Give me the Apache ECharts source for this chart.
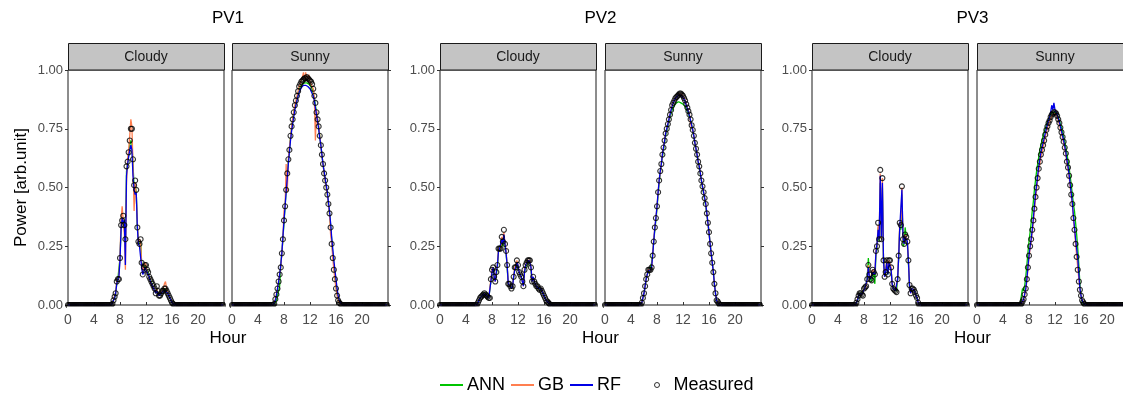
<!DOCTYPE html>
<html>
<head>
<meta charset="utf-8">
<script src="https://cdn.jsdelivr.net/npm/echarts@6/dist/echarts.min.js"></script>
<style>
  html, body { margin: 0; padding: 0; background: #fff; }
  #chart { width: 1123px; height: 394px; }
</style>
</head>
<body>
<div id="chart"></div>
<script>
// time of day, 10 minute steps
const hours = [
  0,0.17,0.33,0.5,0.67,0.83, 1,1.17,1.33,1.5,1.67,1.83, 2,2.17,2.33,2.5,2.67,2.83,
  3,3.17,3.33,3.5,3.67,3.83, 4,4.17,4.33,4.5,4.67,4.83, 5,5.17,5.33,5.5,5.67,5.83,
  6,6.17,6.33,6.5,6.67,6.83, 7,7.17,7.33,7.5,7.67,7.83, 8,8.17,8.33,8.5,8.67,8.83,
  9,9.17,9.33,9.5,9.67,9.83, 10,10.17,10.33,10.5,10.67,10.83, 11,11.17,11.33,11.5,11.67,11.83,
  12,12.17,12.33,12.5,12.67,12.83, 13,13.17,13.33,13.5,13.67,13.83, 14,14.17,14.33,14.5,14.67,14.83,
  15,15.17,15.33,15.5,15.67,15.83, 16,16.17,16.33,16.5,16.67,16.83, 17,17.17,17.33,17.5,17.67,17.83,
  18,18.17,18.33,18.5,18.67,18.83, 19,19.17,19.33,19.5,19.67,19.83, 20,20.17,20.33,20.5,20.67,20.83,
  21,21.17,21.33,21.5,21.67,21.83, 22,22.17,22.33,22.5,22.67,22.83, 23,23.17,23.33,23.5,23.67,23.83
];

const sites = ['PV1', 'PV2', 'PV3'];
const conditions = ['Cloudy', 'Sunny'];
const xTickValues = [0, 4, 8, 12, 16, 20];
const yTickLabels = ['0.00', '0.25', '0.50', '0.75', '1.00'];

// ---- PV1 ----
const pv1CloudyMeasured = [
  0,0,0,0,0,0, 0,0,0,0,0,0, 0,0,0,0,0,0, 0,0,0,0,0,0, 0,0,0,0,0,0, 0,0,0,0,0,0,
  0,0,0,0,0,0.005, 0.02,0.035,0.05,0.10,0.11,0.11, 0.20,0.34,0.36,0.38,0.34,0.28,
  0.59,0.61,0.65,0.70,0.75,0.75, 0.62,0.51,0.53,0.49,0.33,0.27, 0.26,0.28,0.18,0.13,0.16,0.17,
  0.17,0.15,0.14,0.12,0.11,0.10, 0.09,0.08,0.07,0.05,0.08,0.06, 0.04,0.04,0.05,0.06,0.06,0.07,
  0.07,0.06,0.05,0.04,0.03,0.02, 0.01,0.005,0,0,0,0,
  0,0,0,0,0,0, 0,0,0,0,0,0, 0,0,0,0,0,0, 0,0,0,0,0,0, 0,0,0,0,0,0, 0,0,0,0,0,0, 0,0,0,0,0,0
];
const pv1CloudyANN = [
  0,0,0,0,0,0, 0,0,0,0,0,0, 0,0,0,0,0,0, 0,0,0,0,0,0, 0,0,0,0,0,0, 0,0,0,0,0,0,
  0,0,0,0,0,0.006, 0.02,0.03,0.05,0.09,0.11,0.11, 0.20,0.33,0.36,0.37,0.33,0.26,
  0.57,0.60,0.64,0.68,0.70,0.69, 0.60,0.50,0.51,0.48,0.33,0.27, 0.26,0.27,0.18,0.14,0.15,0.17,
  0.16,0.15,0.14,0.12,0.11,0.10, 0.08,0.07,0.06,0.05,0.07,0.05, 0.04,0.04,0.05,0.06,0.06,0.07,
  0.07,0.06,0.05,0.04,0.03,0.02, 0.01,0.005,0,0,0,0,
  0,0,0,0,0,0, 0,0,0,0,0,0, 0,0,0,0,0,0, 0,0,0,0,0,0, 0,0,0,0,0,0, 0,0,0,0,0,0, 0,0,0,0,0,0
];
const pv1CloudyGB = [
  0,0,0,0,0,0, 0,0,0,0,0,0, 0,0,0,0,0,0, 0,0,0,0,0,0, 0,0,0,0,0,0, 0,0,0,0,0,0,
  0,0,0,0,0,0.005, 0.02,0.04,0.05,0.10,0.10,0.12, 0.21,0.36,0.42,0.36,0.30,0.15,
  0.52,0.62,0.66,0.72,0.79,0.76, 0.60,0.40,0.52,0.46,0.35,0.26, 0.28,0.27,0.17,0.14,0.17,0.18,
  0.17,0.14,0.13,0.12,0.11,0.09, 0.08,0.07,0.06,0.05,0.07,0.05, 0.04,0.05,0.05,0.06,0.07,0.09,
  0.10,0.07,0.05,0.04,0.03,0.02, 0.01,0.005,0,0,0,0,
  0,0,0,0,0,0, 0,0,0,0,0,0, 0,0,0,0,0,0, 0,0,0,0,0,0, 0,0,0,0,0,0, 0,0,0,0,0,0, 0,0,0,0,0,0
];
const pv1CloudyRF = [
  0,0,0,0,0,0, 0,0,0,0,0,0, 0,0,0,0,0,0, 0,0,0,0,0,0, 0,0,0,0,0,0, 0,0,0,0,0,0,
  0,0,0,0,0,0.004, 0.02,0.03,0.05,0.09,0.11,0.12, 0.19,0.33,0.37,0.35,0.36,0.17,
  0.55,0.60,0.63,0.66,0.68,0.66, 0.55,0.49,0.47,0.48,0.33,0.26, 0.25,0.25,0.16,0.13,0.14,0.16,
  0.15,0.15,0.13,0.12,0.10,0.09, 0.08,0.07,0.06,0.05,0.06,0.05, 0.04,0.04,0.05,0.05,0.06,0.06,
  0.06,0.06,0.05,0.04,0.03,0.02, 0.01,0.004,0,0,0,0,
  0,0,0,0,0,0, 0,0,0,0,0,0, 0,0,0,0,0,0, 0,0,0,0,0,0, 0,0,0,0,0,0, 0,0,0,0,0,0, 0,0,0,0,0,0
];

const pv1SunnyMeasured = [
  0,0,0,0,0,0, 0,0,0,0,0,0, 0,0,0,0,0,0, 0,0,0,0,0,0, 0,0,0,0,0,0, 0,0,0,0,0,0,
  0,0,0,0.005,0.025,0.045, 0.07,0.10,0.13,0.16,0.22,0.28, 0.36,0.42,0.49,0.56,0.62,0.66,
  0.72,0.76,0.79,0.82,0.85,0.87, 0.89,0.91,0.93,0.94,0.95,0.955, 0.96,0.965,0.965,0.97,0.965,0.96,
  0.955,0.95,0.94,0.92,0.89,0.86, 0.82,0.79,0.76,0.72,0.68,0.64, 0.60,0.56,0.53,0.50,0.47,0.43,
  0.39,0.33,0.26,0.20,0.15,0.11, 0.07,0.04,0.02,0.01,0.005,0,
  0,0,0,0,0,0, 0,0,0,0,0,0, 0,0,0,0,0,0, 0,0,0,0,0,0, 0,0,0,0,0,0, 0,0,0,0,0,0, 0,0,0,0,0,0
];
const pv1SunnyANN = [
  0,0,0,0,0,0, 0,0,0,0,0,0, 0,0,0,0,0,0, 0,0,0,0,0,0, 0,0,0,0,0,0, 0,0,0,0,0,0,
  0,0,0,0.003,0.01,0.02, 0.04,0.06,0.08,0.17,0.22,0.28, 0.35,0.42,0.49,0.55,0.61,0.66,
  0.71,0.75,0.79,0.82,0.84,0.86, 0.88,0.90,0.915,0.93,0.935,0.94, 0.945,0.945,0.945,0.945,0.94,0.94,
  0.935,0.93,0.92,0.90,0.88,0.85, 0.82,0.79,0.76,0.72,0.68,0.64, 0.60,0.56,0.53,0.50,0.47,0.43,
  0.39,0.34,0.28,0.22,0.17,0.12, 0.08,0.05,0.02,0.01,0.003,0,
  0,0,0,0,0,0, 0,0,0,0,0,0, 0,0,0,0,0,0, 0,0,0,0,0,0, 0,0,0,0,0,0, 0,0,0,0,0,0, 0,0,0,0,0,0
];
const pv1SunnyGB = [
  0,0,0,0,0,0, 0,0,0,0,0,0, 0,0,0,0,0,0, 0,0,0,0,0,0, 0,0,0,0,0,0, 0,0,0,0,0,0,
  0,0,0,0.005,0.025,0.045, 0.07,0.10,0.13,0.16,0.22,0.28, 0.40,0.42,0.60,0.48,0.62,0.67,
  0.71,0.76,0.79,0.82,0.85,0.87, 0.89,0.91,0.93,0.94,0.96,0.97, 0.99,0.95,0.99,0.97,0.96,0.98,
  0.95,0.94,0.93,0.92,0.88,0.70, 0.83,0.79,0.76,0.72,0.68,0.64, 0.60,0.56,0.53,0.50,0.47,0.43,
  0.39,0.30,0.27,0.20,0.15,0.11, 0.07,0.04,0.02,0.01,0.005,0,
  0,0,0,0,0,0, 0,0,0,0,0,0, 0,0,0,0,0,0, 0,0,0,0,0,0, 0,0,0,0,0,0, 0,0,0,0,0,0, 0,0,0,0,0,0
];
const pv1SunnyRF = [
  0,0,0,0,0,0, 0,0,0,0,0,0, 0,0,0,0,0,0, 0,0,0,0,0,0, 0,0,0,0,0,0, 0,0,0,0,0,0,
  0,0,0,0.004,0.02,0.04, 0.07,0.10,0.13,0.17,0.22,0.29, 0.36,0.42,0.48,0.54,0.60,0.65,
  0.70,0.74,0.77,0.80,0.83,0.85, 0.87,0.89,0.905,0.915,0.925,0.93, 0.935,0.935,0.935,0.93,0.93,0.925,
  0.92,0.91,0.90,0.89,0.87,0.84, 0.81,0.78,0.75,0.71,0.68,0.64, 0.60,0.57,0.54,0.51,0.48,0.44,
  0.40,0.35,0.29,0.24,0.19,0.15, 0.11,0.07,0.04,0.02,0.01,0.003,
  0,0,0,0,0,0, 0,0,0,0,0,0, 0,0,0,0,0,0, 0,0,0,0,0,0, 0,0,0,0,0,0, 0,0,0,0,0,0, 0,0,0,0,0,0
];

// ---- PV2 ----
const pv2CloudyMeasured = [
  0,0,0,0,0,0, 0,0,0,0,0,0, 0,0,0,0,0,0, 0,0,0,0,0,0, 0,0,0,0,0,0,
  0,0,0,0,0,0.01, 0.02,0.03,0.035,0.04,0.045,0.05, 0.045,0.04,0.035,0.03,0.03,0.11,
  0.15,0.16,0.12,0.10,0.14,0.17, 0.24,0.24,0.24,0.29,0.27,0.32, 0.26,0.23,0.17,0.09,0.09,0.08,
  0.07,0.08,0.12,0.16,0.16,0.19, 0.17,0.14,0.13,0.12,0.10,0.08, 0.15,0.17,0.18,0.19,0.19,0.19,
  0.16,0.10,0.12,0.10,0.09,0.08, 0.08,0.07,0.065,0.07,0.06,0.05, 0.04,0.03,0.02,0.015,0.01,0.005,
  0,0,0,0,0,0, 0,0,0,0,0,0, 0,0,0,0,0,0, 0,0,0,0,0,0, 0,0,0,0,0,0, 0,0,0,0,0,0, 0,0,0,0,0,0
];
const pv2CloudyANN = [
  0,0,0,0,0,0, 0,0,0,0,0,0, 0,0,0,0,0,0, 0,0,0,0,0,0, 0,0,0,0,0,0,
  0,0,0,0,0.003,0.012, 0.02,0.03,0.035,0.04,0.05,0.055, 0.05,0.04,0.035,0.03,0.035,0.10,
  0.14,0.15,0.12,0.11,0.13,0.16, 0.23,0.23,0.24,0.27,0.25,0.28, 0.25,0.22,0.16,0.09,0.09,0.08,
  0.07,0.08,0.12,0.15,0.16,0.18, 0.16,0.14,0.13,0.12,0.10,0.09, 0.14,0.16,0.17,0.18,0.18,0.18,
  0.15,0.10,0.11,0.10,0.09,0.08, 0.08,0.07,0.065,0.065,0.06,0.05, 0.04,0.03,0.02,0.015,0.01,0.005,
  0,0,0,0,0,0, 0,0,0,0,0,0, 0,0,0,0,0,0, 0,0,0,0,0,0, 0,0,0,0,0,0, 0,0,0,0,0,0, 0,0,0,0,0,0
];
const pv2CloudyGB = [
  0,0,0,0,0,0, 0,0,0,0,0,0, 0,0,0,0,0,0, 0,0,0,0,0,0, 0,0,0,0,0,0,
  0,0,0,0,0,0.01, 0.02,0.03,0.035,0.04,0.045,0.05, 0.045,0.04,0.035,0.03,0.03,0.11,
  0.15,0.16,0.12,0.10,0.14,0.17, 0.24,0.24,0.24,0.29,0.27,0.31, 0.26,0.23,0.17,0.09,0.09,0.08,
  0.07,0.08,0.12,0.16,0.16,0.19, 0.17,0.14,0.13,0.12,0.10,0.08, 0.15,0.17,0.18,0.19,0.19,0.19,
  0.16,0.10,0.12,0.10,0.09,0.08, 0.08,0.07,0.065,0.07,0.06,0.05, 0.04,0.03,0.02,0.015,0.01,0.005,
  0,0,0,0,0,0, 0,0,0,0,0,0, 0,0,0,0,0,0, 0,0,0,0,0,0, 0,0,0,0,0,0, 0,0,0,0,0,0, 0,0,0,0,0,0
];
const pv2CloudyRF = [
  0,0,0,0,0,0, 0,0,0,0,0,0, 0,0,0,0,0,0, 0,0,0,0,0,0, 0,0,0,0,0,0,
  0,0,0,0,0,0.008, 0.02,0.03,0.035,0.04,0.045,0.048, 0.045,0.04,0.035,0.03,0.03,0.10,
  0.14,0.16,0.12,0.10,0.14,0.17, 0.23,0.24,0.24,0.28,0.26,0.30, 0.26,0.22,0.17,0.09,0.09,0.08,
  0.07,0.08,0.12,0.15,0.16,0.18, 0.17,0.14,0.13,0.12,0.10,0.08, 0.14,0.17,0.18,0.18,0.19,0.18,
  0.16,0.10,0.12,0.10,0.09,0.08, 0.08,0.07,0.065,0.07,0.06,0.05, 0.04,0.03,0.02,0.015,0.01,0.005,
  0,0,0,0,0,0, 0,0,0,0,0,0, 0,0,0,0,0,0, 0,0,0,0,0,0, 0,0,0,0,0,0, 0,0,0,0,0,0, 0,0,0,0,0,0
];

const pv2SunnyMeasured = [
  0,0,0,0,0,0, 0,0,0,0,0,0, 0,0,0,0,0,0, 0,0,0,0,0,0, 0,0,0,0,0,0,
  0,0,0,0,0.01,0.03, 0.05,0.08,0.11,0.13,0.15,0.15, 0.15,0.16,0.21,0.27,0.33,0.37,
  0.42,0.48,0.53,0.57,0.60,0.64, 0.67,0.70,0.73,0.75,0.77,0.79, 0.81,0.83,0.85,0.86,0.87,0.88,
  0.885,0.89,0.895,0.90,0.90,0.895, 0.89,0.88,0.87,0.855,0.84,0.825, 0.81,0.79,0.765,0.745,0.72,0.69,
  0.665,0.64,0.61,0.59,0.56,0.53, 0.505,0.48,0.455,0.43,0.39,0.35, 0.31,0.26,0.22,0.18,0.14,0.09,
  0.05,0.02,0.015,0.007,0,0,
  0,0,0,0,0,0, 0,0,0,0,0,0, 0,0,0,0,0,0, 0,0,0,0,0,0, 0,0,0,0,0,0, 0,0,0,0,0,0
];
const pv2SunnyANN = [
  0,0,0,0,0,0, 0,0,0,0,0,0, 0,0,0,0,0,0, 0,0,0,0,0,0, 0,0,0,0,0,0,
  0,0,0,0,0.01,0.03, 0.05,0.08,0.11,0.13,0.14,0.15, 0.16,0.18,0.22,0.27,0.32,0.36,
  0.41,0.47,0.52,0.56,0.60,0.63, 0.66,0.69,0.72,0.74,0.76,0.78, 0.80,0.815,0.83,0.84,0.85,0.855,
  0.86,0.865,0.865,0.865,0.86,0.86, 0.855,0.85,0.845,0.835,0.825,0.815, 0.80,0.785,0.765,0.74,0.715,0.69,
  0.66,0.635,0.61,0.585,0.555,0.53, 0.50,0.475,0.45,0.42,0.385,0.35, 0.31,0.26,0.22,0.18,0.14,0.09,
  0.05,0.02,0.01,0.005,0,0,
  0,0,0,0,0,0, 0,0,0,0,0,0, 0,0,0,0,0,0, 0,0,0,0,0,0, 0,0,0,0,0,0, 0,0,0,0,0,0
];
const pv2SunnyGB = [
  0,0,0,0,0,0, 0,0,0,0,0,0, 0,0,0,0,0,0, 0,0,0,0,0,0, 0,0,0,0,0,0,
  0,0,0,0,0.01,0.03, 0.05,0.08,0.11,0.13,0.15,0.15, 0.15,0.16,0.21,0.28,0.33,0.37,
  0.42,0.48,0.53,0.56,0.60,0.64, 0.67,0.70,0.73,0.75,0.77,0.79, 0.81,0.83,0.85,0.86,0.87,0.88,
  0.885,0.89,0.895,0.90,0.90,0.895, 0.89,0.88,0.87,0.855,0.84,0.825, 0.81,0.77,0.765,0.745,0.72,0.69,
  0.665,0.64,0.61,0.59,0.56,0.53, 0.505,0.48,0.455,0.43,0.39,0.35, 0.31,0.26,0.22,0.18,0.14,0.09,
  0.05,0.02,0.015,0.007,0,0,
  0,0,0,0,0,0, 0,0,0,0,0,0, 0,0,0,0,0,0, 0,0,0,0,0,0, 0,0,0,0,0,0, 0,0,0,0,0,0
];
const pv2SunnyRF = [
  0,0,0,0,0,0, 0,0,0,0,0,0, 0,0,0,0,0,0, 0,0,0,0,0,0, 0,0,0,0,0,0,
  0,0,0,0,0.01,0.03, 0.05,0.08,0.11,0.13,0.145,0.15, 0.15,0.16,0.21,0.27,0.33,0.37,
  0.42,0.48,0.53,0.57,0.60,0.64, 0.67,0.70,0.73,0.75,0.77,0.79, 0.81,0.83,0.845,0.86,0.87,0.88,
  0.885,0.89,0.895,0.895,0.895,0.89, 0.885,0.875,0.865,0.85,0.835,0.82, 0.805,0.785,0.765,0.745,0.72,0.69,
  0.665,0.64,0.61,0.59,0.56,0.53, 0.505,0.48,0.455,0.43,0.39,0.35, 0.31,0.26,0.22,0.18,0.14,0.09,
  0.05,0.02,0.01,0.005,0,0,
  0,0,0,0,0,0, 0,0,0,0,0,0, 0,0,0,0,0,0, 0,0,0,0,0,0, 0,0,0,0,0,0, 0,0,0,0,0,0
];

// ---- PV3 ----
const pv3CloudyMeasured = [
  0,0,0,0,0,0, 0,0,0,0,0,0, 0,0,0,0,0,0, 0,0,0,0,0,0, 0,0,0,0,0,0, 0,0,0,0,0,0,
  0,0,0,0,0,0.01, 0.025,0.04,0.05,0.05,0.045,0.04, 0.07,0.075,0.08,0.11,0.17,0.13,
  0.11,0.105,0.15,0.14,0.13,0.23, 0.25,0.35,0.28,0.575,0.28,0.54, 0.19,0.12,0.14,0.19,0.13,0.19,
  0.19,0.16,0.09,0.07,0.065,0.06, 0.055,0.11,0.21,0.35,0.34,0.505, 0.28,0.26,0.30,0.29,0.27,0.19,
  0.085,0.05,0.07,0.07,0.065,0.055, 0.04,0.03,0.01,0,0,0,
  0,0,0,0,0,0, 0,0,0,0,0,0, 0,0,0,0,0,0, 0,0,0,0,0,0, 0,0,0,0,0,0, 0,0,0,0,0,0, 0,0,0,0,0,0
];
const pv3CloudyANN = [
  0,0,0,0,0,0, 0,0,0,0,0,0, 0,0,0,0,0,0, 0,0,0,0,0,0, 0,0,0,0,0,0, 0,0,0,0,0,0,
  0,0,0,0,0,0.01, 0.02,0.035,0.05,0.055,0.05,0.045, 0.07,0.075,0.085,0.12,0.20,0.13,
  0.11,0.10,0.14,0.13,0.09,0.21, 0.24,0.33,0.27,0.52,0.28,0.50, 0.19,0.13,0.14,0.18,0.13,0.18,
  0.18,0.15,0.09,0.075,0.065,0.06, 0.06,0.11,0.20,0.33,0.32,0.47, 0.25,0.26,0.33,0.29,0.26,0.18,
  0.08,0.055,0.07,0.07,0.065,0.055, 0.04,0.025,0.01,0,0,0,
  0,0,0,0,0,0, 0,0,0,0,0,0, 0,0,0,0,0,0, 0,0,0,0,0,0, 0,0,0,0,0,0, 0,0,0,0,0,0, 0,0,0,0,0,0
];
const pv3CloudyGB = [
  0,0,0,0,0,0, 0,0,0,0,0,0, 0,0,0,0,0,0, 0,0,0,0,0,0, 0,0,0,0,0,0, 0,0,0,0,0,0,
  0,0,0,0,0,0.01, 0.025,0.04,0.05,0.05,0.045,0.04, 0.07,0.075,0.08,0.11,0.17,0.13,
  0.11,0.105,0.15,0.14,0.13,0.23, 0.25,0.34,0.28,0.56,0.28,0.54, 0.19,0.12,0.15,0.19,0.14,0.19,
  0.19,0.16,0.09,0.07,0.065,0.06, 0.055,0.11,0.21,0.35,0.34,0.50, 0.28,0.26,0.30,0.29,0.27,0.19,
  0.085,0.05,0.07,0.07,0.065,0.055, 0.04,0.03,0.01,0,0,0,
  0,0,0,0,0,0, 0,0,0,0,0,0, 0,0,0,0,0,0, 0,0,0,0,0,0, 0,0,0,0,0,0, 0,0,0,0,0,0, 0,0,0,0,0,0
];
const pv3CloudyRF = [
  0,0,0,0,0,0, 0,0,0,0,0,0, 0,0,0,0,0,0, 0,0,0,0,0,0, 0,0,0,0,0,0, 0,0,0,0,0,0,
  0,0,0,0,0,0.008, 0.02,0.04,0.05,0.05,0.045,0.04, 0.065,0.075,0.08,0.11,0.16,0.12,
  0.11,0.11,0.14,0.14,0.13,0.22, 0.26,0.32,0.28,0.55,0.29,0.52, 0.19,0.12,0.14,0.18,0.13,0.18,
  0.18,0.15,0.09,0.07,0.065,0.06, 0.055,0.11,0.20,0.33,0.33,0.49, 0.29,0.26,0.29,0.28,0.27,0.19,
  0.085,0.05,0.07,0.07,0.065,0.055, 0.04,0.03,0.01,0,0,0,
  0,0,0,0,0,0, 0,0,0,0,0,0, 0,0,0,0,0,0, 0,0,0,0,0,0, 0,0,0,0,0,0, 0,0,0,0,0,0, 0,0,0,0,0,0
];

const pv3SunnyMeasured = [
  0,0,0,0,0,0, 0,0,0,0,0,0, 0,0,0,0,0,0, 0,0,0,0,0,0, 0,0,0,0,0,0, 0,0,0,0,0,0,
  0,0,0,0,0,0.005, 0.015,0.025,0.045,0.07,0.11,0.16, 0.21,0.25,0.28,0.32,0.36,0.41,
  0.46,0.50,0.54,0.58,0.61,0.64, 0.66,0.68,0.70,0.725,0.745,0.76, 0.775,0.785,0.80,0.81,0.815,0.82,
  0.82,0.815,0.805,0.79,0.775,0.755, 0.735,0.715,0.695,0.67,0.645,0.61, 0.585,0.55,0.51,0.47,0.43,0.37,
  0.32,0.26,0.205,0.15,0.10,0.065, 0.04,0.02,0.012,0.005,0,0,
  0,0,0,0,0,0, 0,0,0,0,0,0, 0,0,0,0,0,0, 0,0,0,0,0,0, 0,0,0,0,0,0, 0,0,0,0,0,0, 0,0,0,0,0,0
];
const pv3SunnyANN = [
  0,0,0,0,0,0, 0,0,0,0,0,0, 0,0,0,0,0,0, 0,0,0,0,0,0, 0,0,0,0,0,0, 0,0,0,0,0,0,
  0,0,0,0,0.01,0.04, 0.07,0.06,0.08,0.12,0.17,0.22, 0.27,0.31,0.35,0.40,0.44,0.49,
  0.53,0.57,0.60,0.63,0.66,0.68, 0.70,0.72,0.735,0.75,0.765,0.78, 0.79,0.80,0.81,0.815,0.82,0.82,
  0.82,0.815,0.81,0.80,0.785,0.77, 0.755,0.735,0.715,0.695,0.67,0.645, 0.615,0.585,0.55,0.51,0.47,0.43,
  0.40,0.35,0.30,0.24,0.17,0.09, 0.04,0.015,0.005,0,0,0,
  0,0,0,0,0,0, 0,0,0,0,0,0, 0,0,0,0,0,0, 0,0,0,0,0,0, 0,0,0,0,0,0, 0,0,0,0,0,0, 0,0,0,0,0,0
];
const pv3SunnyGB = [
  0,0,0,0,0,0, 0,0,0,0,0,0, 0,0,0,0,0,0, 0,0,0,0,0,0, 0,0,0,0,0,0, 0,0,0,0,0,0,
  0,0,0,0,0.003,0.006, 0.012,0.022,0.04,0.065,0.10,0.15, 0.20,0.24,0.27,0.31,0.35,0.40,
  0.45,0.49,0.53,0.57,0.60,0.63, 0.65,0.67,0.69,0.715,0.735,0.75, 0.77,0.78,0.795,0.805,0.81,0.815,
  0.815,0.81,0.80,0.785,0.77,0.75, 0.73,0.71,0.69,0.665,0.64,0.605, 0.58,0.545,0.505,0.465,0.425,0.37,
  0.32,0.26,0.21,0.16,0.11,0.07, 0.04,0.02,0.012,0.005,0,0,
  0,0,0,0,0,0, 0,0,0,0,0,0, 0,0,0,0,0,0, 0,0,0,0,0,0, 0,0,0,0,0,0, 0,0,0,0,0,0, 0,0,0,0,0,0
];
const pv3SunnyRF = [
  0,0,0,0,0,0, 0,0,0,0,0,0, 0,0,0,0,0,0, 0,0,0,0,0,0, 0,0,0,0,0,0, 0,0,0,0,0,0,
  0,0,0,0,0.005,0.01, 0.015,0.025,0.045,0.07,0.11,0.16, 0.21,0.25,0.28,0.32,0.37,0.42,
  0.47,0.51,0.55,0.59,0.62,0.65, 0.67,0.69,0.71,0.73,0.75,0.77, 0.785,0.80,0.82,0.85,0.83,0.86,
  0.83,0.82,0.81,0.795,0.78,0.76, 0.74,0.72,0.70,0.675,0.65,0.615, 0.59,0.555,0.515,0.475,0.435,0.38,
  0.33,0.28,0.24,0.20,0.13,0.07, 0.04,0.02,0.01,0.005,0,0,
  0,0,0,0,0,0, 0,0,0,0,0,0, 0,0,0,0,0,0, 0,0,0,0,0,0, 0,0,0,0,0,0, 0,0,0,0,0,0, 0,0,0,0,0,0
];

const panels = [
  { site: 'PV1', cond: 'Cloudy', measured: pv1CloudyMeasured, ANN: pv1CloudyANN, GB: pv1CloudyGB, RF: pv1CloudyRF },
  { site: 'PV1', cond: 'Sunny', measured: pv1SunnyMeasured, ANN: pv1SunnyANN, GB: pv1SunnyGB, RF: pv1SunnyRF },
  { site: 'PV2', cond: 'Cloudy', measured: pv2CloudyMeasured, ANN: pv2CloudyANN, GB: pv2CloudyGB, RF: pv2CloudyRF },
  { site: 'PV2', cond: 'Sunny', measured: pv2SunnyMeasured, ANN: pv2SunnyANN, GB: pv2SunnyGB, RF: pv2SunnyRF },
  { site: 'PV3', cond: 'Cloudy', measured: pv3CloudyMeasured, ANN: pv3CloudyANN, GB: pv3CloudyGB, RF: pv3CloudyRF },
  { site: 'PV3', cond: 'Sunny', measured: pv3SunnyMeasured, ANN: pv3SunnyANN, GB: pv3SunnyGB, RF: pv3SunnyRF }
];

// layout
const panelLeft = [68, 232, 440, 605, 812, 977];
const panelTop = 70;
const panelW = 156;
const panelH = 235;
const stripTop = 43;
const font = '"Liberation Sans", Arial, Helvetica, sans-serif';
const modelColors = { ANN: '#00c400', GB: '#ff7f50', RF: '#0000e6' };

const chart = echarts.init(document.getElementById('chart'), null, { renderer: 'canvas' });

const grid = [];
const xAxis = [];
const yAxis = [];
const series = [];
const graphic = [];

panels.forEach((p, i) => {
  const left = panelLeft[i];
  const sunny = p.cond === conditions[1];

  grid.push({
    left: left, top: panelTop, width: panelW, height: panelH,
    show: true, borderColor: '#1a1a1a', borderWidth: 1, backgroundColor: '#fff',
    containLabel: false, outerBoundsMode: 'none'
  });

  xAxis.push({
    type: 'value', gridIndex: i, min: 0, max: 24, interval: 4,
    axisLine: { show: false, onZero: false },
    axisTick: { show: true, inside: true, length: 3, lineStyle: { color: '#333' } },
    splitLine: { show: false },
    axisLabel: {
      color: '#4d4d4d', fontSize: 14, fontFamily: font, margin: 8,
      formatter: v => (xTickValues.indexOf(v) >= 0 ? String(v) : '')
    }
  });

  const y = {
    type: 'value', gridIndex: i, min: 0, max: 1, interval: 0.25,
    position: sunny ? 'right' : 'left',
    axisLine: { show: false, onZero: false },
    axisTick: { show: true, length: 3, lineStyle: { color: '#333' } },
    splitLine: { show: false },
    axisLabel: {
      show: !sunny, color: '#4d4d4d', fontSize: 13, fontFamily: font, margin: 5,
      formatter: v => yTickLabels[Math.round(v * 4)]
    }
  };
  if (i === 0) {
    y.name = 'Power [arb.unit]';
    y.nameLocation = 'middle';
    y.nameGap = 38;
    y.nameRotate = 90;
    y.nameTextStyle = { color: '#000', fontSize: 17, fontFamily: font };
  }
  yAxis.push(y);

  ['ANN', 'GB', 'RF'].forEach(name => {
    series.push({
      name: name, type: 'line', xAxisIndex: i, yAxisIndex: i,
      data: hours.map((h, k) => [h, p[name][k]]),
      showSymbol: false, symbol: 'none',
      lineStyle: { width: 1.3, color: modelColors[name] },
      itemStyle: { color: modelColors[name] },
      emphasis: { disabled: true },
      z: 2
    });
  });

  series.push({
    name: 'Measured', type: 'scatter', xAxisIndex: i, yAxisIndex: i,
    data: hours.map((h, k) => [h, p.measured[k]]),
    symbol: 'circle', symbolSize: 5,
    itemStyle: { color: 'rgba(0,0,0,0)', borderColor: '#000', borderWidth: 1.1 },
    emphasis: { disabled: true },
    z: 3
  });

  // mask below the panel so points at zero look clipped, like the original
  graphic.push({
    type: 'rect', z: 9,
    shape: { x: left - 1, y: panelTop + panelH + 1.5, width: panelW + 2, height: 4 },
    style: { fill: '#fff' }
  });

  // facet strip
  graphic.push({
    type: 'rect', z: 10,
    shape: { x: left + 0.5, y: stripTop + 0.5, width: panelW, height: panelTop - stripTop - 0.5 },
    style: { fill: '#c4c4c4', stroke: '#1a1a1a', lineWidth: 1 }
  });
  graphic.push({
    type: 'text', z: 11,
    x: left + panelW / 2, y: (stripTop + panelTop) / 2 + 1,
    style: { text: p.cond, fill: '#1a1a1a', fontSize: 14, fontFamily: font, align: 'center', verticalAlign: 'middle' }
  });
});

// site titles and x axis titles
sites.forEach((s, k) => {
  const cx = (panelLeft[2 * k] + panelLeft[2 * k + 1] + panelW) / 2;
  graphic.push({
    type: 'text', x: cx, y: 18,
    style: { text: s, fill: '#000', fontSize: 17, fontFamily: font, align: 'center', verticalAlign: 'middle' }
  });
  graphic.push({
    type: 'text', x: cx, y: 338,
    style: { text: 'Hour', fill: '#000', fontSize: 17, fontFamily: font, align: 'center', verticalAlign: 'middle' }
  });
});

const option = {
  animation: false,
  backgroundColor: '#fff',
  grid: grid,
  xAxis: xAxis,
  yAxis: yAxis,
  series: series,
  graphic: graphic,
  legend: [
    {
      data: ['ANN', 'GB', 'RF'],
      left: 440, top: 376, padding: 0,
      icon: 'rect', itemWidth: 23, itemHeight: 2, itemGap: 6,
      selectedMode: false,
      textStyle: { color: '#000', fontSize: 18, fontFamily: font, padding: [0, 0, 0, -1] }
    },
    {
      data: ['Measured'],
      left: 654, top: 376, padding: 0,
      icon: 'circle', itemWidth: 5, itemHeight: 5,
      selectedMode: false,
      itemStyle: { color: 'rgba(0,0,0,0)', borderColor: '#000', borderWidth: 1 },
      textStyle: { color: '#000', fontSize: 18, fontFamily: font, padding: [0, 0, 0, 9] }
    }
  ]
};

chart.setOption(option);
</script>
</body>
</html>
